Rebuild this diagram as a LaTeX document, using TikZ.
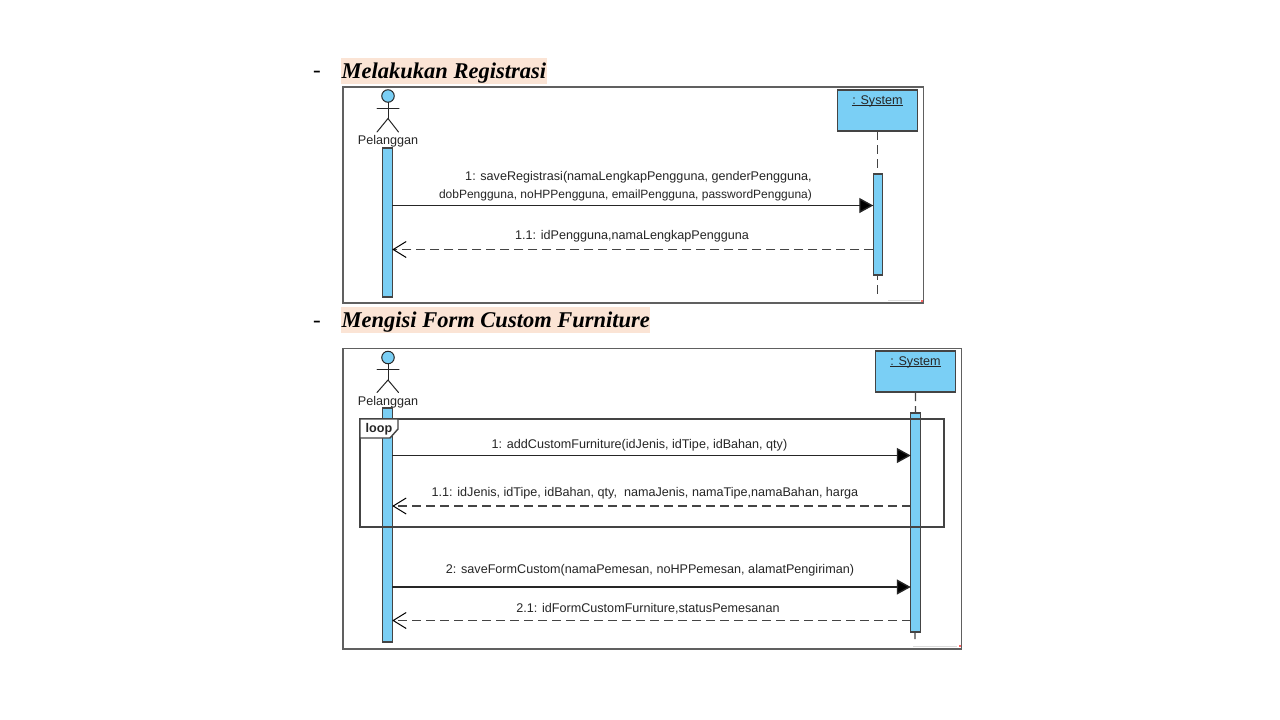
\documentclass[tikz,border=0pt]{standalone}
\usepackage{fontspec}
\setmainfont{Liberation Sans}
\newfontfamily\headfont{Liberation Serif}
\usetikzlibrary{arrows.meta}
\definecolor{lifeblue}{HTML}{7ACFF5}
\definecolor{headbg}{HTML}{FBE4D5}
\definecolor{linegray}{HTML}{444444}
\tikzset{
  frameline/.style={draw=linegray!85,line width=1.4pt,fill=white},
  loopline/.style={draw=linegray,line width=1.4pt},
  lifebox/.style={draw=linegray,line width=1.4pt,fill=lifeblue,inner sep=0pt,outer sep=0pt},
  lifeline/.style={draw=linegray,line width=1.4pt,dash pattern=on 9pt off 5pt},
  actorpart/.style={draw=black!85,line width=1pt,line cap=round},
  msg/.style={draw=black!85,line width=1.4pt,-{Triangle[length=14pt,width=15pt,fill=black]}},
  ret/.style={draw=linegray,line width=1.4pt,dash pattern=on 9pt off 5pt,-{Straight Barb[length=13pt,width=16pt,line width=1pt,black]}},
  lbl/.style={font=\fontsize{12.6}{14}\selectfont,text=black!85,inner sep=0pt,anchor=center},
  sysname/.style={font=\fontsize{12.6}{14}\selectfont,text=black!85,inner sep=0pt,anchor=base},
  sysrule/.style={draw=black!85,line width=0.8pt},
  headtxt/.style={font=\headfont\bfseries\itshape\fontsize{22.5}{26}\selectfont,inner sep=0pt,anchor=base west,text=black},
  headbgbox/.style={fill=headbg,draw=none},
  dashtxt/.style={font=\headfont\fontsize{23}{26}\selectfont,inner sep=0pt},
  looptxt/.style={font=\bfseries\fontsize{12.6}{14}\selectfont,inner sep=0pt,text=black!85},
}
\begin{document}
\begin{tikzpicture}[x=1pt,y=-1pt]
\useasboundingbox (0,0) rectangle (1280,720);
\fill[white] (0,0) rectangle (1280,720);

% ---------- headings ----------
\fill[headbgbox] (341,58) rectangle (547,84);
\fill[headbgbox] (341,307) rectangle (650,333);
\node[dashtxt] (dash1) at (317,74.5) {-};
\node[dashtxt] (dash2) at (317,324) {-};
\node[headtxt] (head1) at (341.5,78) {Melakukan Registrasi};
\node[headtxt] (head2) at (341.5,327) {Mengisi Form Custom Furniture};

% ---------- diagram 1 ----------
\draw[frameline] (343,87) rectangle (923.5,303);
\fill[red!60] (921,300) rectangle (922.5,301.5);
\draw[black!14,line width=0.5pt] (888,300.7) -- (920,300.7);

\node[circle,draw=black!85,line width=1pt,fill=lifeblue,minimum size=12.5pt,inner sep=0pt,outer sep=0pt] (headA) at (388,96) {};
\coordinate (hipA) at (388,118.5);
\coordinate (armLA) at (377,108.5);
\coordinate (armRA) at (399,108.5);
\coordinate (legLA) at (377,132);
\coordinate (legRA) at (398.5,132);
\draw[actorpart] (headA) -- (hipA);
\draw[actorpart] (armLA) -- (armRA);
\draw[actorpart] (legLA) -- (hipA) -- (legRA);
\node[lbl] (actorA) at (388,141) {Pelanggan};

\node[lifebox,minimum width=80pt,minimum height=41pt] (sysA) at (877.5,110.5) {};
\node[sysname] (sysAt) at (877.5,104) {: System};
\draw[sysrule] ([yshift=-1pt]sysAt.base west) -- ([yshift=-1pt]sysAt.base east);
\coordinate (sysAend) at (877.5,298);
\draw[lifeline] (sysA.south) -- (sysAend);

\node[lifebox,minimum width=9.5pt,minimum height=149pt] (actA) at (387.5,222.5) {};
\node[lifebox,minimum width=9.5pt,minimum height=101pt] (actB) at (878,224.5) {};

\coordinate (m1a) at (actA.east |- 0,205.5);
\coordinate (m1b) at (actB.west |- 0,205.5);
\coordinate (m2a) at (actA.east |- 0,249.5);
\coordinate (m2b) at (actB.west |- 0,249.5);
\draw[msg] (m1a) -- (m1b);
\draw[ret] (m2b) -- (m2a);
\node[lbl] (l1) at (638.5,177.5) {1: saveRegistrasi(namaLengkapPengguna, genderPengguna,};
\node[lbl,font=\fontsize{12}{14}\selectfont] (l2) at (625.5,195.5) {dobPengguna, noHPPengguna, emailPengguna, passwordPengguna)};
\node[lbl] (l3) at (632,236.5) {1.1: idPengguna,namaLengkapPengguna};

% ---------- diagram 2 ----------
\draw[frameline] (343,348.5) rectangle (961.5,649);
\fill[red!60] (958.5,645) rectangle (960.5,647);
\draw[black!14,line width=0.5pt] (913,646.5) -- (957,646.5);

\node[circle,draw=black!85,line width=1pt,fill=lifeblue,minimum size=12.5pt,inner sep=0pt,outer sep=0pt] (headC) at (388,357.5) {};
\coordinate (hipC) at (388,380);
\coordinate (armLC) at (377,369.5);
\coordinate (armRC) at (399,369.5);
\coordinate (legLC) at (377,392.5);
\coordinate (legRC) at (398.5,392.5);
\draw[actorpart] (headC) -- (hipC);
\draw[actorpart] (armLC) -- (armRC);
\draw[actorpart] (legLC) -- (hipC) -- (legRC);
\node[lbl] (actorC) at (388,402) {Pelanggan};

\node[lifebox,minimum width=80pt,minimum height=41pt] (sysC) at (915.5,371.5) {};
\node[sysname] (sysCt) at (915.5,365) {: System};
\draw[sysrule] ([yshift=-1pt]sysCt.base west) -- ([yshift=-1pt]sysCt.base east);
\coordinate (sysCend) at (915,641);
\draw[lifeline] (sysC.south) -- (sysCend);

\node[lifebox,minimum width=9.5pt,minimum height=234pt] (actC) at (387.5,525) {};
\node[lifebox,minimum width=9.5pt,minimum height=219pt] (actD) at (915.5,522.5) {};

\draw[loopline] (360,419) rectangle (944,527);
\draw[loopline,fill=white] (360,419) -- (398,419) -- (398,429) -- (390,438) -- (360,438) -- cycle;
\node[looptxt] (loopt) at (379,429.5) {loop};

\coordinate (n1a) at (actC.east |- 0,455.5);
\coordinate (n1b) at (actD.west |- 0,455.5);
\coordinate (n2a) at (actC.east |- 0,506);
\coordinate (n2b) at (actD.west |- 0,506);
\coordinate (n3a) at (actC.east |- 0,587);
\coordinate (n3b) at (actD.west |- 0,587);
\coordinate (n4a) at (actC.east |- 0,620.5);
\coordinate (n4b) at (actD.west |- 0,620.5);
\draw[msg] (n1a) -- (n1b);
\draw[ret] (n2b) -- (n2a);
\draw[msg] (n3a) -- (n3b);
\draw[ret] (n4b) -- (n4a);
\node[lbl] (t1) at (639.5,445.5) {1: addCustomFurniture(idJenis, idTipe, idBahan, qty)};
\node[lbl] (t2) at (645,493) {1.1: idJenis, idTipe, idBahan, qty,\ \ namaJenis, namaTipe,namaBahan, harga};
\node[lbl] (t3) at (650,570) {2: saveFormCustom(namaPemesan, noHPPemesan, alamatPengiriman)};
\node[lbl] (t4) at (648,608.5) {2.1: idFormCustomFurniture,statusPemesanan};
\end{tikzpicture}
\end{document}
